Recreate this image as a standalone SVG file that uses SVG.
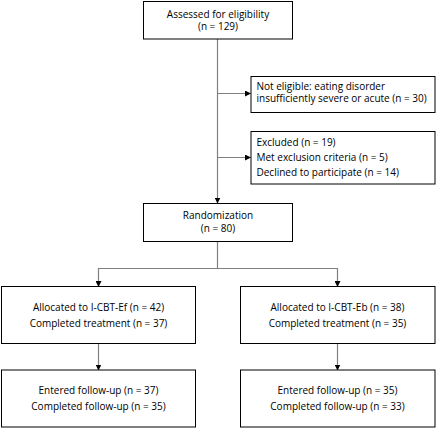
<svg xmlns="http://www.w3.org/2000/svg" width="436" height="428" viewBox="0 0 436 428">
<defs>
<marker id="ah" markerWidth="6" markerHeight="6" refX="5.5" refY="3" orient="auto" markerUnits="userSpaceOnUse">
<path d="M0,0 L6,3 L0,6 Z" fill="#000"/>
</marker>
<style>
.box{fill:#fff;stroke:#000;stroke-width:1}
.ln{fill:none;stroke:#808080;stroke-width:1.2}
text{font-family:"Open Sans","Noto Sans",sans-serif;font-size:10px;fill:#000}
.c{text-anchor:middle}
</style>
</defs>
<rect width="436" height="428" fill="#fff"/>
<g id="connectors">
<path class="ln" d="M217.5,39 V203" marker-end="url(#ah)"/>
<path class="ln" d="M217.5,93.5 H250.5" marker-end="url(#ah)"/>
<path class="ln" d="M217.5,157.5 H250.5" marker-end="url(#ah)"/>
<path class="ln" d="M217.5,242 V268.5 H98.5 V286.5" marker-end="url(#ah)"/>
<path class="ln" d="M217.5,268.5 H337.5 V286.5" marker-end="url(#ah)"/>
<path class="ln" d="M98.5,343.5 V370" marker-end="url(#ah)"/>
<path class="ln" d="M337.5,343.5 V370" marker-end="url(#ah)"/>
</g>
<g id="assessed">
<rect class="box" x="143.5" y="1.5" width="149" height="37.5"/>
<text class="c" x="218" y="17.5">Assessed for eligibility</text>
<text class="c" x="218" y="30">(n = 129)</text>
</g>
<g id="not-eligible">
<rect class="box" x="251" y="76.5" width="184" height="36"/>
<text x="256.5" y="89.5">Not eligible: eating disorder</text>
<text x="256.5" y="102">insufficiently severe or acute (n = 30)</text>
</g>
<g id="excluded">
<rect class="box" x="251" y="131.5" width="184" height="52.5"/>
<text x="256.5" y="146">Excluded (n = 19)</text>
<text x="256.5" y="160.5">Met exclusion criteria (n = 5)</text>
<text x="256.5" y="175.5">Declined to participate (n = 14)</text>
</g>
<g id="randomization">
<rect class="box" x="143.5" y="203.5" width="149" height="38"/>
<text class="c" x="218" y="219">Randomization</text>
<text class="c" x="218" y="231.5">(n = 80)</text>
</g>
<g id="alloc-ef">
<rect class="box" x="1.5" y="286.5" width="194" height="57"/>
<text class="c" x="98.5" y="310.5">Allocated to I-CBT-Ef (n = 42)</text>
<text class="c" x="98.5" y="326.5">Completed treatment (n = 37)</text>
</g>
<g id="alloc-eb">
<rect class="box" x="240.5" y="286.5" width="194.5" height="57"/>
<text class="c" x="337.5" y="310.5">Allocated to I-CBT-Eb (n = 38)</text>
<text class="c" x="337.5" y="326.5">Completed treatment (n = 35)</text>
</g>
<g id="followup-ef">
<rect class="box" x="1.5" y="370" width="194" height="57"/>
<text class="c" x="98.5" y="394">Entered follow-up (n = 37)</text>
<text class="c" x="98.5" y="410">Completed follow-up (n = 35)</text>
</g>
<g id="followup-eb">
<rect class="box" x="240.5" y="370" width="194.5" height="57"/>
<text class="c" x="337.5" y="394">Entered follow-up (n = 35)</text>
<text class="c" x="337.5" y="410">Completed follow-up (n = 33)</text>
</g>
</svg>
